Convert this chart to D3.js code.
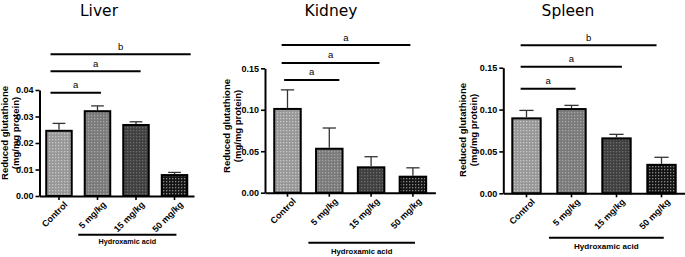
<!DOCTYPE html>
<html lang="en">
<head>
<meta charset="UTF-8">
<title>Reduced glutathione</title>
<script src="https://cdn.jsdelivr.net/npm/d3@7"></script>
<style>
  body { margin: 0; background: #fff; }
  text { font-family: "Liberation Sans", Arial, sans-serif; }
</style>
</head>
<body>
<svg id="mainsvg" width="685" height="257"></svg>
<script>
// groups and values (mean and SEM, mg/mg protein)
const groups = ["Control", "5 mg/kg", "15 mg/kg", "50 mg/kg"];

const liverMean = [0.0246, 0.0320, 0.0268, 0.0079];
const liverSem = [0.0028, 0.0020, 0.0012, 0.0010];
const liverTicks = [0, 0.01, 0.02, 0.03, 0.04];
const liverSig = [["a", -0.22, 1.09, 0.0390], ["a", -0.22, 2.12, 0.0471], ["b", -0.22, 3.42, 0.0535]];

const kidneyMean = [0.101, 0.053, 0.0306, 0.0193];
const kidneySem = [0.023, 0.025, 0.0128, 0.0107];
const kidneyTicks = [0, 0.05, 0.10, 0.15];
const kidneySig = [["a", -0.08, 1.24, 0.136], ["a", -0.14, 2.2, 0.1564], ["a", -0.14, 2.94, 0.178]];

const spleenMean = [0.0895, 0.1006, 0.0656, 0.034];
const spleenSem = [0.0095, 0.0044, 0.0048, 0.009];
const spleenTicks = [0, 0.05, 0.10, 0.15];
const spleenSig = [["a", -0.13, 1.09, 0.125], ["a", -0.13, 2.12, 0.151], ["b", -0.13, 2.89, 0.1768]];

const treatLabel = "Hydroxamic acid";
const yTitle = ["Reduced glutathione", "(mg/mg protein)"];

const svg = d3.select("#mainsvg");

// bar fills: grey base + lighter dot grid
const shades = [["#979797", "#c8c8c8"], ["#7a7a7a", "#a8a8a8"], ["#404040", "#6e6e6e"], ["#141414", "#8a8a8a"]];
const defs = svg.append("defs");
shades.forEach((s, i) => {
    const p = defs.append("pattern").attr("id", "fill" + i)
        .attr("patternUnits", "userSpaceOnUse").attr("width", 3).attr("height", 3);
    p.append("rect").attr("width", 3).attr("height", 3).attr("fill", s[0]);
    p.append("rect").attr("x", 1).attr("y", 1).attr("width", 1.3).attr("height", 1.3).attr("fill", s[1]);
});

const panels = [
    {title: "Liver", mean: liverMean, sem: liverSem, ticks: liverTicks, sig: liverSig, fmt: ".2f",
     x0: 39.5, x1: 194, pi: 0.338, po: 0.175, y0: 196, yTop: 90, yMax: 0.04,
     titleX: 99, ylabX: [4.8, 15.3], ylabY: 133, brY: 234.7, brTextY: 244, brFs: 7.2},
    {title: "Kidney", mean: kidneyMean, sem: kidneySem, ticks: kidneyTicks, sig: kidneySig, fmt: ".2f",
     x0: 265, x1: 435.4, pi: 0.366, po: 0.221, y0: 192.7, yTop: 68.3, yMax: 0.15,
     titleX: 331, ylabX: [226.5, 237.5], ylabY: 126, brY: 242.7, brTextY: 254, brFs: 7.7},
    {title: "Spleen", mean: spleenMean, sem: spleenSem, ticks: spleenTicks, sig: spleenSig, fmt: ".2f",
     x0: 503.3, x1: 684.7, pi: 0.369, po: 0.2, y0: 193.3, yTop: 67.7, yMax: 0.15,
     titleX: 568, ylabX: [462.5, 474], ylabY: 130, brY: 237.7, brTextY: 249, brFs: 8.1}
];

panels.forEach(p => {
    const g = svg.append("g");
    const x = d3.scaleBand().domain(groups).range([p.x0, p.x1]).paddingInner(p.pi).paddingOuter(p.po);
    const y = d3.scaleLinear().domain([0, p.yMax]).range([p.y0, p.yTop]);
    const bw = x.bandwidth();
    // group index -> pixel, for the comparison lines
    const xi = d3.scaleLinear().domain([0, 1]).range([x(groups[0]) + bw / 2, x(groups[1]) + bw / 2]);

    g.append("text").attr("x", p.titleX).attr("y", 15.5)
        .attr("text-anchor", "middle").attr("font-size", 15.5)
        .style("font-family", "'DejaVu Sans', sans-serif")
        .text(p.title);

    // bars
    g.selectAll("rect.bar").data(p.mean).join("rect").attr("class", "bar")
        .attr("x", (d, i) => x(groups[i]))
        .attr("y", d => y(d))
        .attr("width", bw)
        .attr("height", d => y(0) - y(d))
        .attr("fill", (d, i) => `url(#fill${i})`)
        .attr("stroke", "#000").attr("stroke-width", 2);

    // error bars (upper only)
    const eg = g.selectAll("g.err").data(p.mean).join("g").attr("class", "err")
        .attr("stroke", "#333").attr("stroke-width", 1.3);
    eg.append("line")
        .attr("x1", (d, i) => x(groups[i]) + bw / 2).attr("x2", (d, i) => x(groups[i]) + bw / 2)
        .attr("y1", d => y(d) - 1).attr("y2", (d, i) => y(d + p.sem[i]));
    eg.append("line")
        .attr("x1", (d, i) => x(groups[i]) + bw / 2 - bw * 0.25).attr("x2", (d, i) => x(groups[i]) + bw / 2 + bw * 0.25)
        .attr("y1", (d, i) => y(d + p.sem[i])).attr("y2", (d, i) => y(d + p.sem[i]));

    // axes
    const ya = g.append("g").attr("transform", `translate(${p.x0},0)`)
        .call(d3.axisLeft(y).tickValues(p.ticks).tickFormat(d3.format(p.fmt)).tickSize(4).tickPadding(2).tickSizeOuter(0));
    const xa = g.append("g").attr("transform", `translate(0,${p.y0})`)
        .call(d3.axisBottom(x).tickSize(4).tickSizeOuter(0));
    [ya, xa].forEach(a => {
        a.select(".domain").attr("stroke-width", 2);
        a.selectAll(".tick line").attr("stroke-width", 1.6);
        a.selectAll("text").attr("font-weight", "bold").style("font-family", "'Liberation Sans', Arial, sans-serif");
    });
    ya.selectAll("text").attr("font-size", 9);
    xa.selectAll("text").attr("font-size", 9)
        .attr("text-anchor", "end")
        .attr("dy", "0.3em").attr("dx", 0)
        .attr("transform", "translate(3,3) rotate(-45)")
        .attr("y", 6);

    // y title
    yTitle.forEach((t, k) => {
        g.append("text")
            .attr("transform", `translate(${p.ylabX[k]},${p.ylabY}) rotate(-90)`)
            .attr("text-anchor", "middle").attr("dy", "0.35em")
            .attr("font-size", 9.5).attr("font-weight", "bold")
            .text(t);
    });

    // comparison lines
    const sg = g.selectAll("g.sig").data(p.sig).join("g").attr("class", "sig");
    sg.append("line")
        .attr("x1", d => xi(d[1])).attr("x2", d => xi(d[2]))
        .attr("y1", d => y(d[3])).attr("y2", d => y(d[3]))
        .attr("stroke", "#000").attr("stroke-width", 2);
    sg.append("text")
        .attr("x", d => (xi(d[1]) + xi(d[2])) / 2).attr("y", d => y(d[3]) - 4.5)
        .attr("text-anchor", "middle").attr("font-size", 9.5)
        .text(d => d[0]);

    // treatment bracket under the dosed groups
    g.append("line")
        .attr("x1", xi(0.5)).attr("x2", xi(3.05))
        .attr("y1", p.brY).attr("y2", p.brY)
        .attr("stroke", "#000").attr("stroke-width", 2);
    g.append("text")
        .attr("x", (xi(0.5) + xi(3.05)) / 2).attr("y", p.brTextY)
        .attr("text-anchor", "middle").attr("font-size", p.brFs).attr("font-weight", "bold")
        .text(treatLabel);
});
</script>
</body>
</html>
